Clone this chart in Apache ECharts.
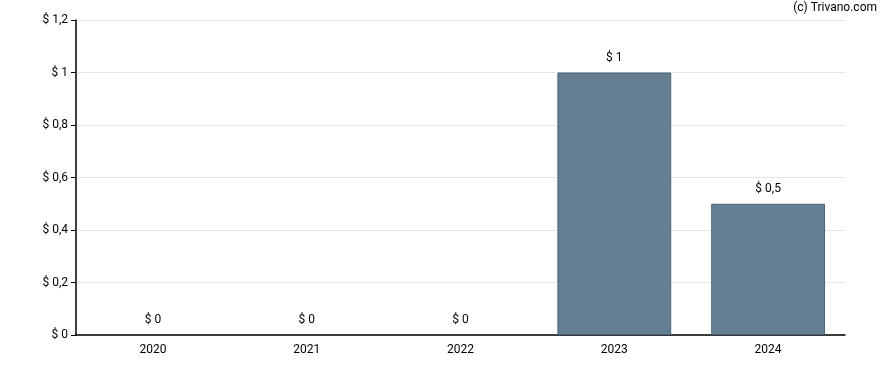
<!DOCTYPE html>
<html><head><meta charset="utf-8">
<script src="https://cdn.jsdelivr.net/npm/echarts@6/dist/echarts.min.js"></script>
<style>html,body{margin:0;padding:0;background:#fff}#c{width:888px;height:370px}</style>
</head><body><div id="c"></div>
<script>
var categories = ['2020','2021','2022','2023','2024'];
var values = [0, 0, 0, 1, 0.5];
var yTicks = [0, 0.2, 0.4, 0.6, 0.8, 1, 1.2];

function fmt(v){ return '$ ' + String(Math.round(v*100)/100).replace('.', ','); }

var barData = values.map(function(v){
  return v === 0 ? {value:v, itemStyle:{borderWidth:0}} : {value:v};
});

var chart = echarts.init(document.getElementById('c'), null, {renderer:'canvas'});
chart.setOption({
  animation:false,
  textStyle:{fontFamily:'Roboto'},
  graphic:[{type:'text', right:11, top:2, style:{text:'(c) Trivano.com', font:'12px Roboto', fill:'#000'}}],
  grid:{left:76, right:43, top:20, bottom:35, containLabel:false},
  xAxis:{type:'category', data:categories,
    axisLine:{lineStyle:{color:'#000', width:1.5}},
    axisTick:{alignWithLabel:true, length:5, lineStyle:{color:'#000'}},
    axisLabel:{color:'#000', fontSize:12, margin:9, fontFamily:'Roboto'}},
  yAxis:{type:'value', min:yTicks[0], max:yTicks[yTicks.length-1], interval:0.2,
    axisLine:{show:true, lineStyle:{color:'#000', width:1.5}},
    axisTick:{show:true, length:5, lineStyle:{color:'#000'}},
    splitLine:{lineStyle:{color:'#e6e6e6'}},
    axisLabel:{color:'#000', fontSize:12, margin:8, fontFamily:'Roboto', formatter:fmt}},
  series:[{type:'bar', data:barData, barWidth:'74%',
    itemStyle:{color:'#647f91', borderColor:'#4b6479', borderWidth:1},
    label:{show:true, position:'top', distance:9, color:'#000', fontSize:12, fontFamily:'Roboto',
      formatter:function(p){return fmt(p.value);}}}]
});
</script></body></html>
